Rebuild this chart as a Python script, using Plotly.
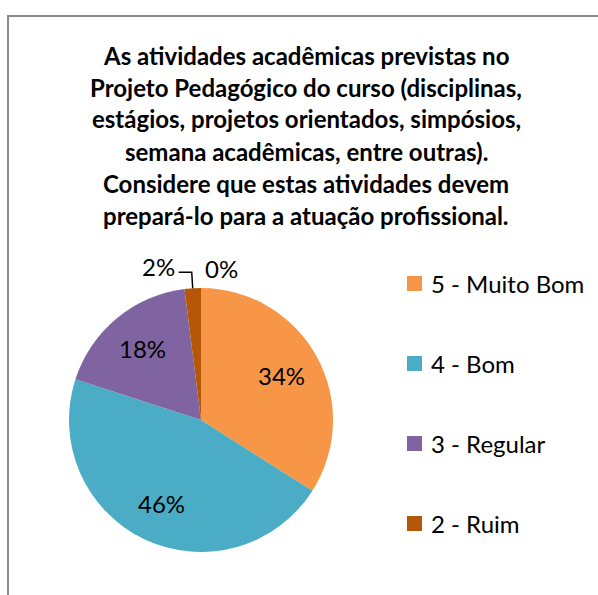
import math
import plotly.graph_objects as go

W, H = 598, 595

# Survey answers and their shares (%)
categories = ["5 - Muito Bom", "4 - Bom", "3 - Regular", "2 - Ruim", "1 - Péssimo"]
shares = [34, 46, 18, 2, 0]
colors = ["#F79646", "#4BACC6", "#8064A2", "#B65708", "#C0504D"]

title_lines = [
    "As atividades acadêmicas previstas no",
    "Projeto Pedagógico do curso (disciplinas,",
    "estágios, projetos orientados, simpósios,",
    "semana acadêmicas, entre outras).",
    "Considere que estas atividades devem",
    "prepará-lo para a atuação profissional.",
]

FONT = "Lato"
TXT = 24

# pie geometry in pixels
cx, cy, r = 201, 420, 132


def px(x):
    return x / W


def py(y):
    return 1 - y / H


fig = go.Figure(go.Pie(
    labels=categories,
    values=shares,
    marker=dict(colors=colors, line=dict(width=0)),
    sort=False,
    direction="clockwise",
    rotation=0,
    textinfo="none",
    hoverinfo="label+percent",
    showlegend=False,
    domain=dict(x=[px(cx - r), px(cx + r)], y=[py(cy + r), py(cy - r)]),
))

annotations = []
shapes = []

# title, one line per annotation
for i, line in enumerate(title_lines):
    annotations.append(dict(
        text=f"<b>{line}</b>", x=px(306), y=py(55 + 32 * i), xref="paper", yref="paper",
        xanchor="center", yanchor="middle", showarrow=False,
        font=dict(family=FONT, size=TXT, color="#000000"),
    ))

# slice labels
total = sum(shares)
cum = 0
for cat, v in zip(categories, shares):
    start = cum / total * 360
    cum += v
    mid = math.radians((start + v / total * 360 / 2))
    label = f"{round(v / total * 100)}%"
    if v / total >= 0.05:
        x = cx + 0.70 * r * math.sin(mid)
        y = cy - 0.70 * r * math.cos(mid)
        annotations.append(dict(
            text=label, x=px(x), y=py(y), xref="paper", yref="paper",
            xanchor="center", yanchor="middle", showarrow=False,
            font=dict(family=FONT, size=TXT, color="#000000"),
        ))
    elif v > 0:
        # small slice: label outside with an elbow leader line
        ex = cx + r * math.sin(mid)
        ey = cy - r * math.cos(mid)
        kx, ky = ex - 1, ey - 16
        hx = kx - 13
        shapes.append(dict(
            type="path", xref="paper", yref="paper",
            path=f"M {px(ex)} {py(ey)} L {px(kx)} {py(ky)} L {px(hx)} {py(ky)}",
            line=dict(color="#000000", width=1.5),
        ))
        annotations.append(dict(
            text=label, x=px(hx - 2), y=py(ky - 6), xref="paper", yref="paper",
            xanchor="right", yanchor="middle", showarrow=False,
            font=dict(family=FONT, size=TXT, color="#000000"),
        ))
    else:
        ex = cx + r * math.sin(mid)
        ey = cy - r * math.cos(mid)
        annotations.append(dict(
            text=label, x=px(ex + 2), y=py(ey - 20), xref="paper", yref="paper",
            xanchor="left", yanchor="middle", showarrow=False,
            font=dict(family=FONT, size=TXT, color="#000000"),
        ))

# legend (entries with a nonzero share)
row = 0
for cat, v, c in zip(categories, shares, colors):
    if v <= 0:
        continue
    yc = 283.5 + 80 * row
    shapes.append(dict(
        type="rect", xref="paper", yref="paper",
        x0=px(407), x1=px(422), y0=py(yc + 7.5), y1=py(yc - 7.5),
        fillcolor=c, line=dict(width=0),
    ))
    annotations.append(dict(
        text=cat, x=px(429), y=py(yc), xref="paper", yref="paper",
        xanchor="left", yanchor="middle", showarrow=False,
        font=dict(family=FONT, size=TXT, color="#000000"),
    ))
    row += 1

# chart area border
shapes.append(dict(
    type="rect", xref="paper", yref="paper",
    x0=px(8), y0=py(H + 20), x1=px(W + 20), y1=py(16),
    line=dict(color="#8A8A8A", width=2), fillcolor="rgba(0,0,0,0)",
))

fig.update_layout(
    width=W, height=H,
    margin=dict(l=0, r=0, t=0, b=0),
    paper_bgcolor="#FFFFFF",
    plot_bgcolor="#FFFFFF",
    annotations=annotations,
    shapes=shapes,
    font=dict(family=FONT),
)

fig.write_html("out.html")
